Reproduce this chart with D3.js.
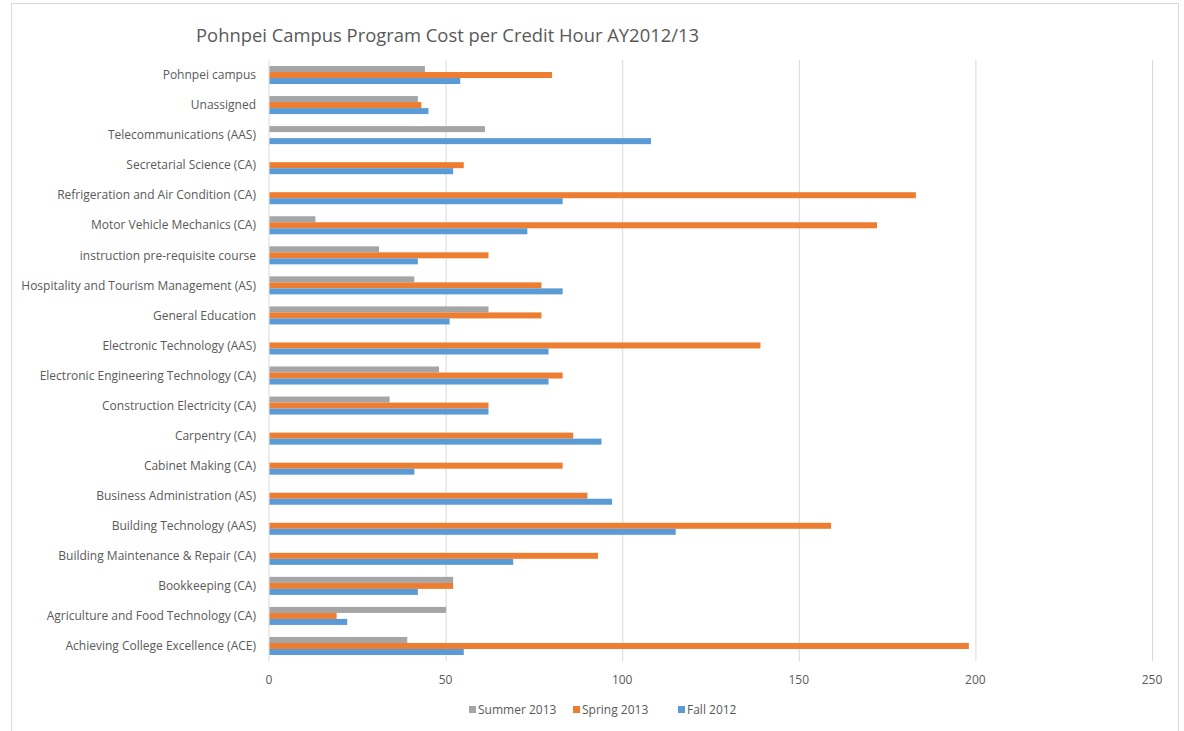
<!DOCTYPE html>
<html>
<head>
<meta charset="utf-8">
<script src="https://cdn.jsdelivr.net/npm/d3@7"></script>
<style>
  body { margin: 0; background: #fff; }
  text { font-family: "Open Sans", "Noto Sans", sans-serif; fill: #595959; }
</style>
</head>
<body>
<div id="chart"></div>
<script>
// categories, top to bottom as in the chart
const categories = [
    "Pohnpei campus",
    "Unassigned",
    "Telecommunications (AAS)",
    "Secretarial Science (CA)",
    "Refrigeration and Air Condition (CA)",
    "Motor Vehicle Mechanics (CA)",
    "instruction pre-requisite course",
    "Hospitality and Tourism Management (AS)",
    "General Education",
    "Electronic Technology (AAS)",
    "Electronic Engineering Technology (CA)",
    "Construction Electricity (CA)",
    "Carpentry (CA)",
    "Cabinet Making (CA)",
    "Business Administration (AS)",
    "Building Technology (AAS)",
    "Building Maintenance & Repair (CA)",
    "Bookkeeping (CA)",
    "Agriculture and Food Technology (CA)",
    "Achieving College Excellence (ACE)"
];

const summer2013 = [44, 42, 61, 0, 0, 13, 31, 41, 62, 0, 48, 34, 0, 0, 0, 0, 0, 52, 50, 39];
const spring2013 = [80, 43, 0, 55, 183, 172, 62, 77, 77, 139, 83, 62, 86, 83, 90, 159, 93, 52, 19, 198];
const fall2012   = [54, 45, 108, 52, 83, 73, 42, 83, 51, 79, 79, 62, 94, 41, 97, 115, 69, 42, 22, 55];

const seriesNames = ["Summer 2013", "Spring 2013", "Fall 2012"];
const seriesColors = ["#A5A5A5", "#ED7D31", "#5B9BD5"];
const xTicks = [0, 50, 100, 150, 200, 250];

const width = 1184;
const height = 731;
const margin = { top: 60, right: 32, bottom: 70, left: 269 };

const svg = d3.select("#chart")
    .append("svg")
    .attr("width", width)
    .attr("height", height);

// outer chart frame
svg.append("rect")
    .attr("x", 11.5)
    .attr("y", 3.5)
    .attr("width", 1167)
    .attr("height", 740)
    .style("fill", "none")
    .style("stroke", "#D9D9D9")
    .style("stroke-width", "1px");

// title
svg.append("text")
    .attr("x", 196)
    .attr("y", 42)
    .style("font-size", "18.4px")
    .text("Pohnpei Campus Program Cost per Credit Hour AY2012/13");

const x = d3.scaleLinear()
    .domain([0, 250])
    .range([margin.left, width - margin.right]);

const y = d3.scaleBand()
    .domain(categories)
    .range([margin.top, height - margin.bottom])
    .paddingInner(0.4)
    .paddingOuter(0.2);

const ySub = d3.scaleBand()
    .domain(seriesNames)
    .range([0, y.bandwidth()]);

// gridlines
svg.append("g")
    .selectAll("line")
    .data(xTicks.slice(1))
    .enter()
    .append("line")
    .attr("x1", d => x(d) + 0.5)
    .attr("x2", d => x(d) + 0.5)
    .attr("y1", margin.top)
    .attr("y2", height - margin.bottom)
    .style("stroke", "#D9D9D9")
    .style("stroke-width", "1px");

// category axis line
svg.append("line")
    .attr("x1", x(0))
    .attr("x2", x(0))
    .attr("y1", margin.top)
    .attr("y2", height - margin.bottom)
    .style("stroke", "#D9D9D9")
    .style("stroke-width", "1px");

// bars
const seriesData = [summer2013, spring2013, fall2012];
seriesData.forEach((values, s) => {
    svg.append("g")
        .selectAll("rect")
        .data(values)
        .enter()
        .append("rect")
        .attr("x", x(0) + 0.5)
        .attr("y", (d, i) => y(categories[i]) + ySub(seriesNames[s]))
        .attr("width", d => Math.max(0, x(d) - x(0)))
        .attr("height", ySub.bandwidth())
        .style("fill", seriesColors[s]);
});

// category labels
svg.append("g")
    .selectAll("text")
    .data(categories)
    .enter()
    .append("text")
    .attr("x", 256)
    .attr("y", d => y(d) + y.bandwidth() / 2)
    .attr("dy", "0.35em")
    .style("font-size", "12px")
    .style("text-anchor", "end")
    .text(d => d);

// value axis labels
svg.append("g")
    .selectAll("text")
    .data(xTicks)
    .enter()
    .append("text")
    .attr("x", d => x(d))
    .attr("y", 684)
    .style("font-size", "12px")
    .style("text-anchor", "middle")
    .text(d => d);

// legend
const legendX = [469, 573, 678];
const legend = svg.append("g")
    .selectAll("g")
    .data(seriesNames)
    .enter()
    .append("g")
    .attr("transform", (d, i) => `translate(${legendX[i]}, 710)`);

legend.append("rect")
    .attr("x", 0)
    .attr("y", -4)
    .attr("width", 7)
    .attr("height", 7)
    .style("fill", (d, i) => seriesColors[i]);

legend.append("text")
    .attr("x", 9)
    .attr("y", 0)
    .attr("dy", "0.35em")
    .style("font-size", "12px")
    .text(d => d);
</script>
</body>
</html>
